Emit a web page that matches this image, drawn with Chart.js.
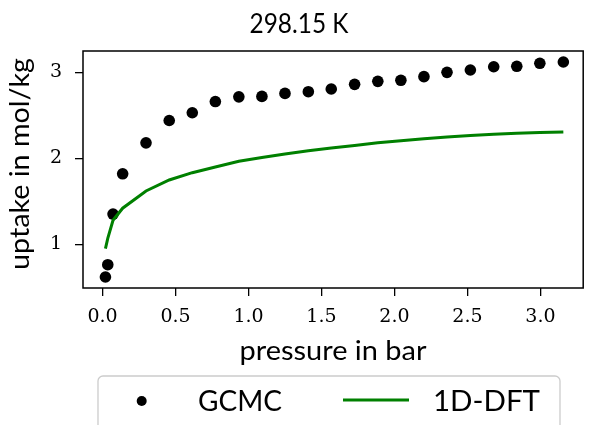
<!DOCTYPE html>
<html><head><meta charset="utf-8">
<script src="https://cdn.jsdelivr.net/npm/chart.js@4.4.1/dist/chart.umd.min.js"></script>
<style>html,body{margin:0;padding:0;background:#fff;overflow:hidden}#wrap{width:589px;height:425px;position:relative}</style>
</head><body><div id="wrap"><canvas id="c" width="589" height="425"></canvas></div>
<script>
// ---- data ----
const pressure = [0.020, 0.036, 0.072, 0.138, 0.298, 0.457, 0.615, 0.773, 0.934, 1.092, 1.250, 1.410, 1.567, 1.727, 1.886, 2.044, 2.202, 2.360, 2.520, 2.680, 2.838, 2.996, 3.157];
const gcmcUptake = [0.62, 0.763, 1.352, 1.82, 2.18, 2.44, 2.53, 2.66, 2.715, 2.72, 2.755, 2.775, 2.806, 2.86, 2.895, 2.907, 2.95, 3.0, 3.027, 3.065, 3.07, 3.105, 3.12];
const dftUptake = [0.95, 1.07, 1.28, 1.42, 1.62, 1.748, 1.833, 1.90, 1.965, 2.01, 2.05, 2.087, 2.12, 2.15, 2.18, 2.205, 2.228, 2.248, 2.265, 2.28, 2.292, 2.30, 2.306];
const xTicks = [0.0, 0.5, 1.0, 1.5, 2.0, 2.5, 3.0];
const yTicks = [1, 2, 3];
const seriesNames = ['GCMC', '1D-DFT'];
const titleText = '298.15 K';
const xLabel = 'pressure in bar';
const yLabel = 'uptake in mol/kg';

const SANS = 'Lato';
// draw text at a given font size, condensed horizontally to a target width
function drawFit(ctx, text, x, y, targetW, size, align) {
  ctx.font = size + 'px ' + SANS;
  const w = ctx.measureText(text).width;
  const k = targetW / w;
  ctx.save();
  ctx.translate(x, y);
  ctx.scale(k, 1);
  ctx.textAlign = align;
  ctx.fillText(text, 0, 0);
  ctx.restore();
}

const decor = {
  id: 'decor',
  afterDatasetsDraw(chart) {
    const ctx = chart.ctx, a = chart.chartArea;
    ctx.save();
    ctx.strokeStyle = '#000'; ctx.lineWidth = 1.5;
    ctx.strokeRect(a.left, a.top, a.right - a.left, a.bottom - a.top);
    ctx.restore();
  },
  afterDraw(chart) {
    const ctx = chart.ctx;
    ctx.save();
    ctx.fillStyle = '#000';
    ctx.textBaseline = 'alphabetic';
    drawFit(ctx, titleText, 299, 33, 99, 27, 'center');
    drawFit(ctx, xLabel, 333, 360, 187, 26, 'center');
    ctx.save();
    ctx.translate(29, 164); ctx.rotate(-Math.PI / 2);
    drawFit(ctx, yLabel, 0, 0, 212, 26, 'center');
    ctx.restore();
    // legend
    ctx.beginPath();
    ctx.roundRect(98, 376, 462, 90, 5);
    ctx.fillStyle = 'rgba(255,255,255,0.8)'; ctx.fill();
    ctx.strokeStyle = '#cccccc'; ctx.lineWidth = 1.3; ctx.stroke();
    ctx.fillStyle = '#000';
    ctx.beginPath(); ctx.arc(141.7, 401, 5, 0, Math.PI * 2); ctx.fill();
    ctx.strokeStyle = '#008000'; ctx.lineWidth = 3;
    ctx.beginPath(); ctx.moveTo(343, 400); ctx.lineTo(409, 400); ctx.stroke();
    ctx.fillStyle = '#000';
    drawFit(ctx, seriesNames[0], 198, 411, 84, 28, 'left');
    drawFit(ctx, seriesNames[1], 433, 411, 107, 28, 'left');
    ctx.restore();
  }
};

const tickFont = { family: '"DejaVu Serif"', size: 19 };
new Chart(document.getElementById('c'), {
  type: 'scatter',
  data: {
    datasets: [
      { label: seriesNames[1], data: pressure.map((p, i) => ({ x: p, y: dftUptake[i] })), showLine: true,
        borderColor: '#008000', borderWidth: 3, pointRadius: 0, fill: false, tension: 0, order: 0 },
      { label: seriesNames[0], data: pressure.map((p, i) => ({ x: p, y: gcmcUptake[i] })),
        backgroundColor: '#000', borderColor: '#000', pointRadius: 5.8, borderWidth: 0, order: 1 }
    ]
  },
  options: {
    responsive: false, animation: false, devicePixelRatio: 1,
    layout: { padding: { top: 51, right: 1, left: 0, bottom: 0 } },
    plugins: { legend: { display: false }, title: { display: false }, tooltip: { enabled: false } },
    scales: {
      x: {
        type: 'linear', min: -0.1337, max: 3.293,
        grid: { display: true, drawOnChartArea: false, drawTicks: true, tickLength: 8, color: '#000', lineWidth: 1.3 },
        border: { display: false },
        ticks: { font: tickFont, color: '#000', padding: 10, autoSkip: false, maxRotation: 0,
          callback: v => Number(v).toFixed(1) },
        afterBuildTicks: s => { s.ticks = xTicks.map(v => ({ value: v })); },
        afterFit: s => { s.height = 137; }
      },
      y: {
        type: 'linear', min: 0.492, max: 3.248,
        grid: { display: true, drawOnChartArea: false, drawTicks: true, tickLength: 8, color: '#000', lineWidth: 1.3 },
        border: { display: false },
        ticks: { font: tickFont, color: '#000', padding: 13, autoSkip: false,
          callback: v => String(v) },
        afterBuildTicks: s => { s.ticks = yTicks.map(v => ({ value: v })); },
        afterFit: s => { s.width = 83; }
      }
    }
  },
  plugins: [decor]
});
</script></body></html>
